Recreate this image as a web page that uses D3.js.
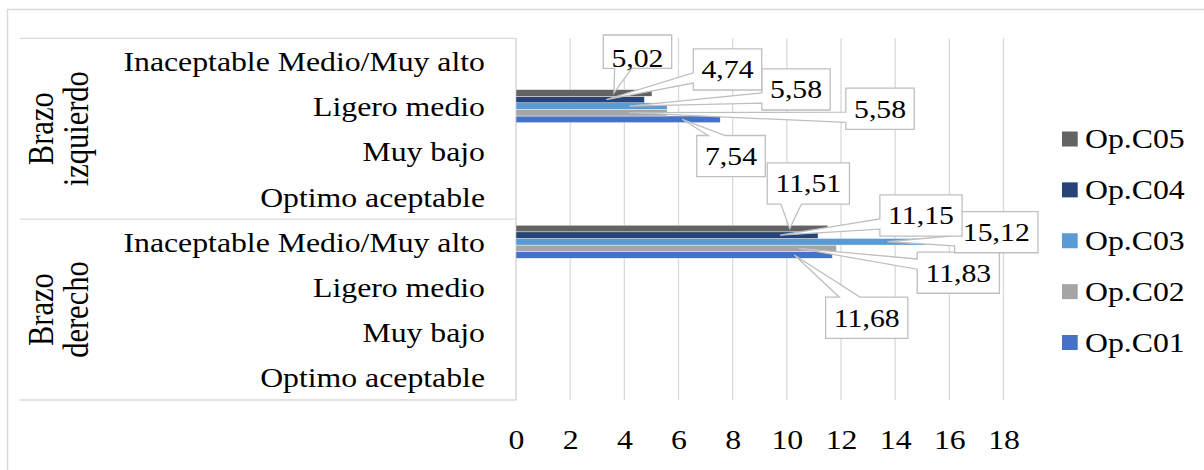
<!DOCTYPE html>
<html>
<head>
<meta charset="utf-8">
<script src="https://cdn.jsdelivr.net/npm/d3@7"></script>
<style>
  html, body { margin: 0; padding: 0; background: #fff; }
  svg { display: block; }
  text { font-family: "Liberation Serif", "Times New Roman", serif; fill: #000; }
</style>
</head>
<body>
<svg id="chart" width="1204" height="470"></svg>
<script>
// ---- data -------------------------------------------------------------
const groupNames = ["Brazo izquierdo", "Brazo derecho"];
const levelNames = ["Inaceptable Medio/Muy alto", "Ligero medio", "Muy bajo", "Optimo aceptable"];
const seriesNames = ["Op.C01", "Op.C02", "Op.C03", "Op.C04", "Op.C05"];
// one value per category, in the order: izquierdo (4 levels), derecho (4 levels)
const opC01 = [null, 7.54, null, null, 11.68, null, null, null];
const opC02 = [null, 5.58, null, null, 11.83, null, null, null];
const opC03 = [null, 5.58, null, null, 15.12, null, null, null];
const opC04 = [null, 4.74, null, null, 11.15, null, null, null];
const opC05 = [null, 5.02, null, null, 11.51, null, null, null];
const xTickValues = [0, 2, 4, 6, 8, 10, 12, 14, 16, 18];

// ---- style ------------------------------------------------------------
const seriesColors = ["#4472C4", "#A5A5A5", "#5B9BD5", "#264478", "#636363"];
const gridColor = "#D9D9D9";
const SX = 1.19;               // horizontal stretch of all lettering
const LEADER_INSET = 38;       // callout tips sit this far inside the bar end
// callout text anchor relative to its tip: [dx, dy]
const calloutOffsets = {
  1: { "Op.C01": [48.8, 45.7], "Op.C02": [250.9, 4.9], "Op.C03": [166.9, -7.8],
       "Op.C04": [121.1, -21.2], "Op.C05": [23.5, -26.2, { top: 31.7, bottom: 1.6 }] },
  4: { "Op.C01": [72.4, 71.7], "Op.C02": [159.9, 33.2], "Op.C03": [108.8, -0.7],
       "Op.C04": [141, -10.8], "Op.C05": [18.6, -36.2] }
};

const seriesValues = [opC01, opC02, opC03, opC04, opC05];
const categories = d3.range(groupNames.length * levelNames.length);

const svg = d3.select("#chart");

// outer chart frame
svg.append("rect")
  .attr("x", 7.5).attr("y", 9.5).attr("width", 1220).attr("height", 480)
  .attr("fill", "#fff").attr("stroke", gridColor).attr("stroke-width", 1.5);

// ---- scales -----------------------------------------------------------
const plotTop = 38.3, plotBottom = 400;
const x = d3.scaleLinear().domain([0, 18]).range([516, 1003.5]);
const y = d3.scaleBand().domain(categories).range([plotTop, plotBottom])
  .paddingInner(0.27).paddingOuter(0.135);
const barOrder = seriesNames.slice().reverse();   // Op.C05 on top
const ySeries = d3.scaleBand().domain(barOrder).range([0, y.bandwidth()]);
const color = d3.scaleOrdinal().domain(seriesNames).range(seriesColors);

// helper: place a text with the horizontal stretch
function place(sel, tx, ty, rot) {
  return sel.attr("transform", d => {
    const X = typeof tx === "function" ? tx(d) : tx;
    const Y = typeof ty === "function" ? ty(d) : ty;
    return `translate(${X},${Y}) scale(${SX},1)` + (rot ? ` rotate(${rot})` : "");
  });
}

// ---- grid -------------------------------------------------------------
svg.append("g").selectAll("line")
  .data(xTickValues)
  .join("line")
  .attr("x1", d => x(d)).attr("x2", d => x(d))
  .attr("y1", plotTop).attr("y2", plotBottom)
  .attr("stroke", d => d === 0 ? "#CFCFCF" : gridColor)
  .attr("stroke-width", 1.3);

// category axis frame lines (top, group divider, bottom)
const groupStep = (plotBottom - plotTop) / groupNames.length;
svg.append("g").selectAll("line")
  .data(d3.range(groupNames.length + 1))
  .join("line")
  .attr("x1", 20).attr("x2", x(0))
  .attr("y1", d => plotTop + d * groupStep).attr("y2", d => plotTop + d * groupStep)
  .attr("stroke", gridColor).attr("stroke-width", 1.3);

// ---- x axis labels ----------------------------------------------------
const xAxis = svg.append("g")
  .attr("transform", `translate(0,${449})`)
  .call(d3.axisBottom(x).tickValues(xTickValues).tickSize(0).tickPadding(0)
        .tickFormat(d3.format("d")));
xAxis.select(".domain").remove();
xAxis.selectAll("text")
  .attr("y", 0).attr("dy", 0)
  .attr("font-family", "Liberation Serif")
  .attr("font-size", 26.7)
  .attr("fill", "#000")
  .attr("transform", `scale(${SX},1)`);

// ---- category labels --------------------------------------------------
const levelLabels = categories.map(i => levelNames[i % levelNames.length]);
svg.append("g").selectAll("text")
  .data(categories)
  .join("text")
  .attr("text-anchor", "end")
  .attr("font-size", 26.7)
  .text(d => levelLabels[d])
  .call(place, 485, d => y(d) + y.bandwidth() / 2 + 10);

// group labels, rotated, two lines each
const groupWords = groupNames.map(g => g.split(" "));
const groupG = svg.append("g");
groupNames.forEach((g, gi) => {
  const yc = plotTop + (gi + 0.5) * groupStep;
  groupWords[gi].forEach((w, li) => {
    groupG.append("text")
      .attr("text-anchor", "middle")
      .attr("font-size", 30.5)
      .text(w)
      .call(place, 53 + li * 35, yc, -90);
  });
});

// ---- bars -------------------------------------------------------------
const barData = [];
seriesNames.forEach((s, si) => {
  seriesValues[si].forEach((v, ci) => {
    if (v != null) barData.push({ series: s, cat: ci, value: v });
  });
});

svg.append("g").selectAll("rect")
  .data(barData)
  .join("rect")
  .attr("x", x(0))
  .attr("y", d => y(d.cat) + ySeries(d.series))
  .attr("width", d => x(d.value) - x(0))
  .attr("height", ySeries.bandwidth())
  .attr("fill", d => color(d.series))
  .attr("stroke", "#fff").attr("stroke-width", 0.4);

// ---- callout labels ---------------------------------------------------
function calloutPath(l, t, r, b, tx, ty) {
  const w = r - l, h = b - t, hc = (l + r) / 2, vc = (t + b) / 2;
  const dx = tx - hc, dy = ty - vc;
  const dz = Math.abs(dy) - Math.abs(dx * h / w);
  const x1 = l + w * (dx > 0 ? 7 : 2) / 12, x2 = l + w * (dx > 0 ? 10 : 5) / 12;
  const y1 = t + h * (dy > 0 ? 7 : 2) / 12, y2 = t + h * (dy > 0 ? 10 : 5) / 12;
  const p = d3.path();
  p.moveTo(l, t);
  if (dz > 0 && dy < 0) { p.lineTo(x1, t); p.lineTo(tx, ty); p.lineTo(x2, t); }
  p.lineTo(r, t);
  if (dz <= 0 && dx > 0) { p.lineTo(r, y1); p.lineTo(tx, ty); p.lineTo(r, y2); }
  p.lineTo(r, b);
  if (dz > 0 && dy > 0) { p.lineTo(x2, b); p.lineTo(tx, ty); p.lineTo(x1, b); }
  p.lineTo(l, b);
  if (dz <= 0 && dx < 0) { p.lineTo(l, y2); p.lineTo(tx, ty); p.lineTo(l, y1); }
  p.closePath();
  return p.toString();
}

const fmt = v => d3.format(".2f")(v).replace(".", ",");
const labelG = svg.append("g");
barData.forEach(d => {
  const off = calloutOffsets[d.cat][d.series];
  const tipX = x(d.value) - LEADER_INSET;
  const tipY = y(d.cat) + ySeries(d.series) + ySeries.bandwidth() / 2;
  const cx = tipX + off[0], base = tipY + off[1];
  const g = labelG.append("g");
  const path = g.append("path");
  const t = g.append("text")
    .attr("text-anchor", "middle")
    .attr("font-size", 25)
    .text(fmt(d.value))
    .call(place, cx, base);
  const tw = t.node().getComputedTextLength() * SX;
  const pad = 8.2;
  const trim = off[2] || { top: 29.5, bottom: 11.7 };
  path.attr("d", calloutPath(cx - tw / 2 - pad, base - trim.top, cx + tw / 2 + pad,
                             base + trim.bottom, tipX, tipY))
    .attr("fill", "#fff").attr("stroke", "#BFBFBF").attr("stroke-width", 1.3);
});

// ---- legend -----------------------------------------------------------
const legendY = d3.scalePoint().domain(barOrder).range([139, 342.5]);
const legend = svg.append("g").selectAll("g")
  .data(barOrder)
  .join("g");
legend.append("rect")
  .attr("x", 1062).attr("y", d => legendY(d) - 7.5)
  .attr("width", 15.7).attr("height", 15)
  .attr("fill", d => color(d));
legend.append("text")
  .attr("font-size", 26.7)
  .text(d => d)
  .call(place, 1085, d => legendY(d) + 9.2);
</script>
</body>
</html>
